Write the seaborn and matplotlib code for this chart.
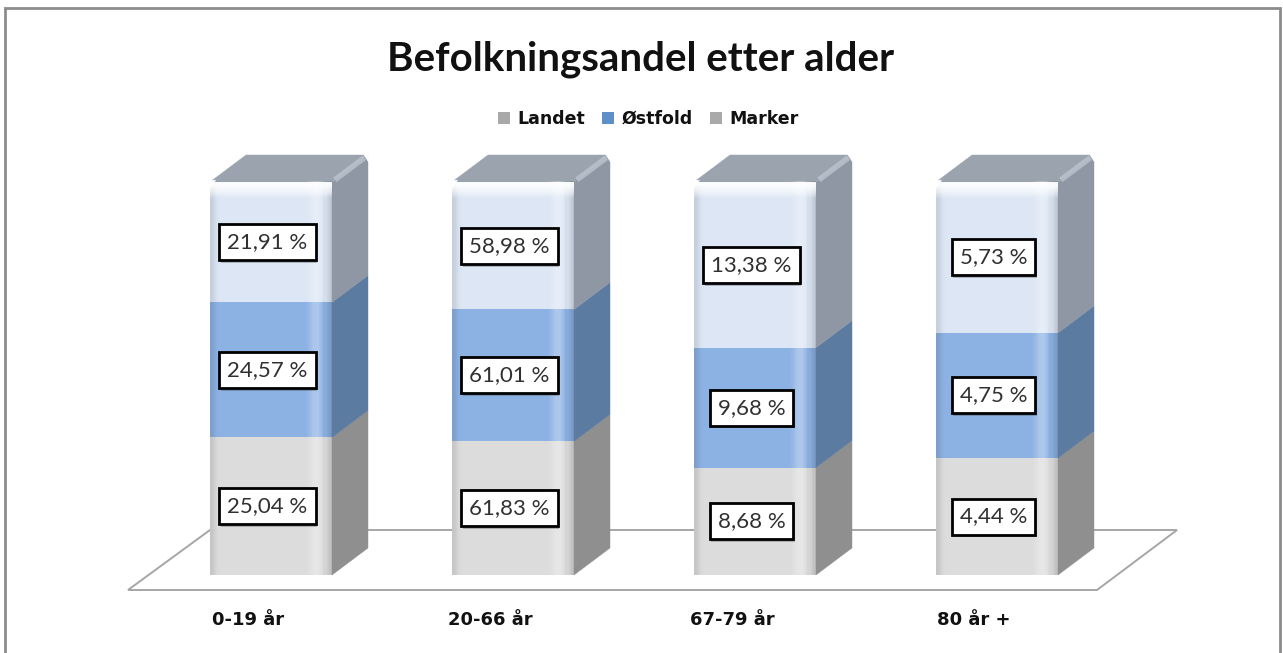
import numpy as np
import pandas as pd
import seaborn as sns
import matplotlib.pyplot as plt
import matplotlib.patheffects as pe
from matplotlib.patches import Patch, Polygon, Rectangle
from matplotlib.transforms import ScaledTranslation

categories = ['0-19 år', '20-66 år', '67-79 år', '80 år +']
landet = [25.04, 61.83, 8.68, 4.44]
ostfold = [24.57, 61.01, 9.68, 4.75]
marker = [21.91, 58.98, 13.38, 5.73]
series_names = ['Landet', 'Østfold', 'Marker']

front_colors = ['#dcdcdc', '#8cb1e3', '#dce6f4']
side_colors = ['#8f8f8f', '#5b7ba1', '#8e97a3']
legend_colors = ['#a9a9a9', '#5f8fca', '#a9a9a9']

sns.set_theme(style='white')
plt.rcParams['font.family'] = ['Lato', 'DejaVu Sans']

df = pd.DataFrame({'Landet': landet, 'Østfold': ostfold, 'Marker': marker}, index=categories)
# 100 % stacked, the printed labels are the raw values
share = df.div(df.sum(axis=1), axis=0) * 100
cum = share.cumsum(axis=1)

W, H = 1283, 653
fig = plt.figure(figsize=(W / 100, H / 100), dpi=100, facecolor='white')
ax = fig.add_axes([150 / W, (H - 575) / H, 968 / W, 393 / H])

# layered from the tallest so the stack shows through
bar_w = 122 / 242
for name, col in reversed(list(zip(series_names, front_colors))):
    sns.barplot(x=categories, y=cum[name].values, color=col, saturation=1,
                width=bar_w, ax=ax, zorder=3, linewidth=0)

dx = 36 / 242
dy = 27 / 3.93


def px_x(p):
    return (p - 271) / 242


def px_y(p):
    return (575 - p) / 3.93


def shade(x0, x1, y0, y1, stops, vertical=False):
    arr = np.array(stops, dtype=float)
    arr[:, :3] /= 255
    arr = arr[:, None, :] if vertical else arr[None, :, :]
    ax.imshow(arr, extent=(x0, x1, y0, y1), aspect='auto', origin='upper',
              interpolation='bilinear', zorder=4, clip_on=False)


clear = (255, 255, 255, 0)
bevel = [(0, 0, 0, .10), (0, 0, 0, .03)] + [clear] * 22 + \
        [(255, 255, 255, .12), (255, 255, 255, .28), (255, 255, 255, .30), (255, 255, 255, .12),
         (0, 0, 0, .03), (0, 0, 0, .12)]

# floor
floor = [(px_x(128), px_y(590)), (px_x(1097), px_y(590)), (px_x(1177), px_y(530)), (px_x(210), px_y(530))]
ax.add_patch(Polygon(floor, closed=True, fc='white', ec='#a6a6a6', lw=1.4, zorder=1, clip_on=False))

for i in range(len(categories)):
    x0, x1 = i - bar_w / 2, i + bar_w / 2
    low = 0
    for name, col in zip(series_names, side_colors):
        high = cum[name].iloc[i]
        ax.add_patch(Polygon([(x1, low), (x1 + dx, low + dy), (x1 + dx, high + dy), (x1, high)],
                             closed=True, fc=col, ec=col, lw=0.3, zorder=3, clip_on=False))
        low = high
    # top face
    ax.add_patch(Polygon([(x0, 100), (x1, 100), (x1 + dx, 100 + dy), (x0 + dx, 100 + dy)],
                         closed=True, fc='#9ba3ae', ec='#9ba3ae', lw=0.3, zorder=3, clip_on=False))
    ax.plot([x1 + dx * 0.08, x1 + dx * 0.9], [100 + dy * 0.08, 100 + dy * 0.9], color='#bcc4cf', lw=4,
            alpha=0.8, zorder=4, solid_capstyle='butt', clip_on=False)
    # bevel on the front
    shade(x0, x1, 0, 100, bevel)
    shade(x0, x1, 100 - 5, 100, [(255, 255, 255, .9), (255, 255, 255, .55), clear], vertical=True)
    # rounded corners
    ax.add_patch(Polygon([(x0 - 0.003, 98.4), (x0 - 0.003, 100.4), (x0 + 0.02, 100.4)],
                         closed=True, fc='white', ec='white', lw=0.5, zorder=5, clip_on=False))
    ax.add_patch(Polygon([(x1 + dx + 0.003, 100 + dy + 0.4), (x1 + dx - 0.02, 100 + dy + 0.4),
                          (x1 + dx + 0.003, 100 + dy - 1.8)],
                         closed=True, fc='white', ec='white', lw=0.5, zorder=5, clip_on=False))

    # value boxes, raw values with comma decimals
    low = 0
    for name in series_names:
        high = cum[name].iloc[i]
        txt = f"{df[name].iloc[i]:.2f} %".replace('.', ',')
        t = ax.text(i - 0.014, (low + high) / 2, txt, ha='center', va='center', fontsize=16,
                    color='#303030', zorder=6,
                    bbox=dict(boxstyle='square,pad=0.36', fc='white', ec='black', lw=2))
        t.get_bbox_patch().set_path_effects([pe.withSimplePatchShadow(offset=(1, -2), alpha=0.35)])
        low = high

ax.set_xlim(-0.5, 3.5)
ax.set_ylim(0, 100)
ax.set_yticks([])
ax.set_xticks(range(len(categories)))
ax.set_xticklabels(categories, fontsize=13, fontweight='bold', family='DejaVu Sans', color='#111111')
ax.tick_params(axis='x', length=0, pad=26)
for lab in ax.get_xticklabels():
    lab.set_transform(lab.get_transform() + ScaledTranslation(-23 / 100, 0, fig.dpi_scale_trans))
ax.set_xlabel('')
ax.set_ylabel('')
ax.patch.set_alpha(0)
sns.despine(ax=ax, left=True, bottom=True)

handles = [Patch(fc=c, ec='none', label=n) for n, c in zip(series_names, legend_colors)]
fig.legend(handles=handles, ncols=3, loc='center', bbox_to_anchor=(648 / W, (H - 119) / H),
           frameon=False, handlelength=0.7, handleheight=0.7, handletextpad=0.4,
           columnspacing=1.0, prop={'family': 'DejaVu Sans', 'weight': 'bold', 'size': 12.5},
           labelcolor='#111111')

fig.text(641 / W, (H - 59) / H, 'Befolkningsandel etter alder', ha='center', va='center',
         fontsize=29, fontweight='bold', color='#111111')

# outer frame of the original picture
fig.add_artist(Rectangle((5 / W, -10 / H), 1275 / W, (H - 8 + 10) / H, transform=fig.transFigure,
                         fc='none', ec='#8c8c8c', lw=2))

fig.savefig('out.png', dpi=100)
